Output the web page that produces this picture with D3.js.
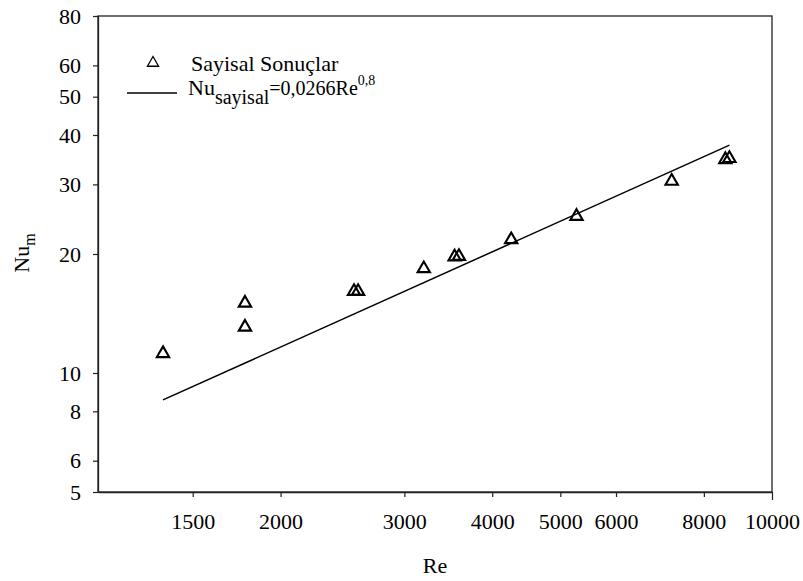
<!DOCTYPE html>
<html>
<head>
<meta charset="utf-8">
<script src="https://cdn.jsdelivr.net/npm/d3@7"></script>
<style>
  body { margin: 0; background: #fff; }
</style>
</head>
<body>
<script>
// data
var reValues = [1361, 1780, 1780, 2544, 2578, 3197, 3537, 3587, 4257, 5272, 7200, 8583, 8697];
var nuValues = [11.3, 15.16, 13.18, 16.23, 16.23, 18.53, 19.85, 19.9, 21.94, 25.13, 30.83, 34.98, 35.2];

// fitted line Nu = 0.0266 Re^0.8, end points as drawn
var fitRe = [1361, 8700];
var fitNu = [8.55, 37.7];

var xTicks = [1500, 2000, 3000, 4000, 5000, 6000, 8000, 10000];
var yTicks = [5, 6, 8, 10, 20, 30, 40, 50, 60, 80];

var serif = "Liberation Serif";

var svgWidth = 803;
var svgHeight = 581;

var margin = { top: 16, right: 31, bottom: 89, left: 98 };
var width = svgWidth - margin.left - margin.right;
var height = svgHeight - margin.top - margin.bottom;

var svg = d3.select("body")
  .append("svg")
  .attr("width", svgWidth)
  .attr("height", svgHeight)
  .style("font-family", serif);

svg.append("rect")
  .attr("width", svgWidth)
  .attr("height", svgHeight)
  .attr("fill", "#fff");

var chartGroup = svg.append("g")
  .attr("transform", `translate(${margin.left}, ${margin.top})`);

// scales
var xScale = d3.scaleLog()
  .domain([1100, 10000])
  .range([0, width]);

var yScale = d3.scaleLog()
  .domain([5, 80])
  .range([height, 0]);

// frame
chartGroup.append("rect")
  .attr("width", width)
  .attr("height", height)
  .attr("fill", "none")
  .attr("stroke", "#222")
  .attr("stroke-width", 1.3);

// axes
var bottomAxis = d3.axisBottom(xScale)
  .tickValues(xTicks)
  .tickFormat(d3.format("d"))
  .tickSizeInner(5)
  .tickSizeOuter(0)
  .tickPadding(16);

var leftAxis = d3.axisLeft(yScale)
  .tickValues(yTicks)
  .tickFormat(d3.format("d"))
  .tickSizeInner(5)
  .tickSizeOuter(0)
  .tickPadding(12);

var xAxisG = chartGroup.append("g")
  .attr("transform", `translate(0, ${height})`)
  .call(bottomAxis);

var yAxisG = chartGroup.append("g").call(leftAxis);

[xAxisG, yAxisG].forEach(function(g) {
  g.attr("font-family", null).attr("font-size", null);
  g.select(".domain").attr("stroke", "#222").attr("stroke-width", 1.3);
  g.selectAll(".tick line").attr("stroke", "#222").attr("stroke-width", 1.2);
  g.selectAll(".tick text")
    .attr("fill", "#000")
    .style("font-family", serif)
    .style("font-size", "22px");
});

// last tick a bit longer, as in the original
xAxisG.selectAll(".tick line").filter(d => d === 10000).attr("y2", 8);

// fit line
var line = d3.line()
  .x(d => xScale(d[0]))
  .y(d => yScale(d[1]));

chartGroup.append("path")
  .datum(d3.zip(fitRe, fitNu))
  .attr("d", line)
  .attr("fill", "none")
  .attr("stroke", "#000")
  .attr("stroke-width", 1.5);

// points
var triangle = d3.symbol(d3.symbolTriangle, 66);

chartGroup.selectAll(".pt")
  .data(d3.zip(reValues, nuValues))
  .enter()
  .append("path")
  .attr("class", "pt")
  .attr("d", triangle)
  .attr("transform", d => `translate(${xScale(d[0])}, ${yScale(d[1]) + 1.5})`)
  .attr("fill", "none")
  .attr("stroke", "#000")
  .attr("stroke-width", 2.1)
  .attr("stroke-linejoin", "miter");

// legend
var legend = svg.append("g");

legend.append("path")
  .attr("d", d3.symbol(d3.symbolTriangle, 55))
  .attr("transform", "translate(153, 63)")
  .attr("fill", "none")
  .attr("stroke", "#000")
  .attr("stroke-width", 1.3);

legend.append("text")
  .attr("x", 191)
  .attr("y", 71)
  .style("font-size", "22px")
  .text("Sayisal Sonuçlar");

legend.append("line")
  .attr("x1", 127)
  .attr("x2", 177)
  .attr("y1", 93)
  .attr("y2", 93)
  .attr("stroke", "#000")
  .attr("stroke-width", 1.5);

var fitLabel = legend.append("text")
  .attr("x", 188)
  .attr("y", 95)
  .style("font-size", "22px");
fitLabel.append("tspan").text("Nu");
fitLabel.append("tspan").attr("dy", 9).style("font-size", "20px").text("sayisal");
fitLabel.append("tspan").attr("dy", -9).style("font-size", "20px").text("=0,0266Re");
fitLabel.append("tspan").attr("dy", -10).style("font-size", "14px").text("0,8");

// axis titles
svg.append("text")
  .attr("x", margin.left + width / 2)
  .attr("y", 573)
  .attr("text-anchor", "middle")
  .style("font-size", "22px")
  .text("Re");

var yTitle = svg.append("text")
  .attr("transform", "translate(29, 253) rotate(-90)")
  .attr("text-anchor", "middle")
  .style("font-size", "22px");
yTitle.append("tspan").text("Nu");
yTitle.append("tspan").attr("dy", 6).style("font-size", "16px").text("m");
</script>
</body>
</html>
